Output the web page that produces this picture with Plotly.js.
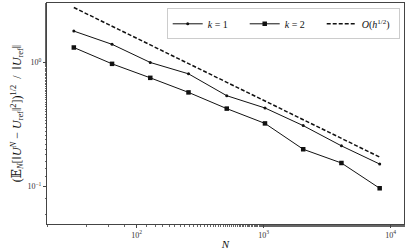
<!DOCTYPE html>
<html>
<head>
<meta charset="utf-8">
<script src="https://cdn.plot.ly/plotly-3.0.1.min.js"></script>
<style>
  html, body { margin: 0; padding: 0; background: #fff; }
  #plot { width: 407px; height: 250px; }
</style>
</head>
<body>
<div id="plot"></div>
<script>
// Sample sizes N
const nVals = [32, 64, 128, 256, 512, 1024, 2048, 4096, 8192];

// Relative error, k = 1
const errK1 = [1.79, 1.40, 1.00, 0.81, 0.54, 0.43, 0.31, 0.213, 0.152];

// Relative error, k = 2
const errK2 = [1.32, 0.975, 0.752, 0.574, 0.425, 0.323, 0.20, 0.155, 0.097];

// Reference rate O(h^{1/2})
const refRate = [2.77, 1.96, 1.385, 0.979, 0.692, 0.49, 0.346, 0.245, 0.173];

// Tick labels
const xTickVals = [100, 1000, 10000];
const xTickText = ['10<sup>2</sup>', '10<sup>3</sup>', '10<sup>4</sup>'];
const yTickVals = [0.1, 1];
const yTickText = ['10<sup>−1</sup>', '10<sup>0</sup>'];

const serif = 'Liberation Serif, DejaVu Serif, serif';

const k1Trace = {
    x: nVals,
    y: errK1,
    type: 'scatter',
    mode: 'lines+markers',
    name: '<i>k</i> = 1',
    line: { color: '#111', width: 1 },
    marker: { symbol: 'circle', size: 3, color: '#111' }
};

const k2Trace = {
    x: nVals,
    y: errK2,
    type: 'scatter',
    mode: 'lines+markers',
    name: '<i>k</i> = 2',
    line: { color: '#111', width: 1 },
    marker: { symbol: 'square', size: 4.5, color: '#111' }
};

const refTrace = {
    x: nVals,
    y: refRate,
    type: 'scatter',
    mode: 'lines',
    name: '<i>O</i>(<i>h</i><sup>1/2</sup>)',
    line: { color: '#111', width: 1.5, dash: '4px,2px' }
};

// Axes frame like matplotlib spines
const axisCommon = {
    type: 'log',
    showline: true,
    linecolor: '#444',
    linewidth: 1,
    mirror: true,
    showgrid: false,
    zeroline: false,
    ticks: 'outside',
    ticklen: 3,
    tickcolor: '#444',
    tickmode: 'array',
    tickfont: { family: serif, size: 8, color: '#333' },
    minor: { ticks: 'outside', ticklen: 1.5, tickcolor: '#666', showgrid: false }
};

// leading spaces nudge the rotated label upward a little
const pad = '\u00a0\u00a0\u00a0\u00a0\u00a0\u00a0';

let layout = {
    width: 407,
    height: 250,
    margin: { l: 47, r: 3, t: 3, b: 26 },
    paper_bgcolor: '#fff',
    plot_bgcolor: '#fff',
    font: { family: serif, color: '#111' },
    showlegend: true,
    xaxis: Object.assign({}, axisCommon, {
        range: [1.294, 4.105],
        tickvals: xTickVals,
        ticktext: xTickText,
        title: { text: '<i>N</i>', font: { family: serif, size: 11 }, standoff: 2 }
    }),
    yaxis: Object.assign({}, axisCommon, {
        range: [-1.301, 0.479],
        tickvals: yTickVals,
        ticktext: yTickText,
        title: {
            text: pad + '(𝔼<sub><i>N</i></sub>[‖<i>U</i><sup><i>N</i></sup> − <i>U</i><sub>ref</sub>‖<sup>2</sup>])<sup>1/2</sup>  /  ‖<i>U</i><sub>ref</sub>‖',
            font: { family: serif, size: 12 },
            standoff: 3
        }
    }),
    legend: {
        orientation: 'h',
        x: 0.988,
        xanchor: 'right',
        y: 0.976,
        yanchor: 'top',
        entrywidth: 32,
        entrywidthmode: 'pixels',
        bgcolor: 'rgba(255,255,255,0.8)',
        bordercolor: '#ccc',
        borderwidth: 1,
        font: { family: serif, size: 10, color: '#111' }
    }
};

Plotly.newPlot('plot', [k1Trace, k2Trace, refTrace], layout, { displayModeBar: false, staticPlot: true });
</script>
</body>
</html>
